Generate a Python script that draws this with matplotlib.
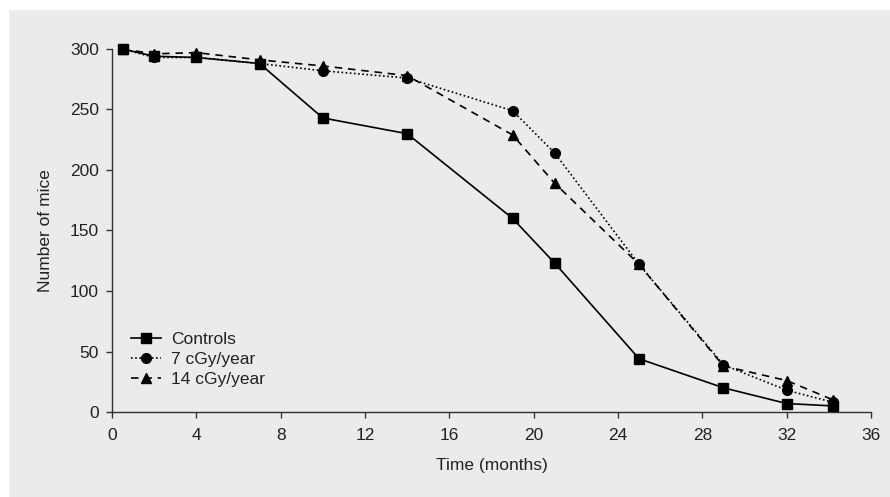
import matplotlib
matplotlib.use('Agg')
import matplotlib.pyplot as plt
from matplotlib.patches import Rectangle

# Data
months = [0.5, 2, 4, 7, 10, 14, 19, 21, 25, 29, 32, 34.2]
controls = [300, 294, 293, 288, 243, 230, 160, 123, 44, 20, 7, 5]
cgy7 = [300, 293, 293, 288, 282, 276, 249, 214, 122, 39, 18, 8]
cgy14 = [300, 296, 297, 291, 286, 278, 229, 189, 122, 38, 26, 10]

x_ticks = [0, 4, 8, 12, 16, 20, 24, 28, 32, 36]
y_ticks = [0, 50, 100, 150, 200, 250, 300]

plt.rcParams['font.family'] = ['Liberation Sans', 'DejaVu Sans']
fs = 12.5

fig = plt.figure(figsize=(8.9, 4.97), dpi=100)
fig.patch.set_facecolor('white')
bg = Rectangle((9 / 890, 0), 881 / 890, 487 / 497, transform=fig.transFigure,
               facecolor='#ebebeb', edgecolor='none', zorder=-10)
fig.patches.append(bg)

ax = fig.add_axes([112 / 890, 85 / 497, 759 / 890, 363 / 497])
ax.set_facecolor('none')
ax.set_zorder(5)

ax.plot(months, controls, color='black', lw=1.2, marker='s', ms=6.5,
        label='Controls', clip_on=False)
ax.plot(months, cgy7, color='black', lw=1.2, ls=(0, (1, 1.5)), marker='o',
        ms=7, label='7 cGy/year', clip_on=False)
ax.plot(months, cgy14, color='black', lw=1.2, ls=(0, (4.5, 3.5)), marker='^',
        ms=7, label='14 cGy/year', clip_on=False)

ax.set_xlim(0, 36)
ax.set_ylim(0, 300)
ax.set_xticks(x_ticks)
ax.set_yticks(y_ticks)
for side in ['top', 'right']:
    ax.spines[side].set_visible(False)
for side in ['left', 'bottom']:
    ax.spines[side].set_linewidth(1.0)
    ax.spines[side].set_color('#333333')
ax.tick_params(direction='out', length=4.5, width=1.0, color='#333333',
               pad=5, labelsize=fs, labelcolor='#222222')
ax.tick_params(axis='x', pad=7)

ax.set_xlabel('Time (months)', fontsize=fs, color='#222222', labelpad=11)
ax.set_ylabel('Number of mice', fontsize=fs, color='#222222', labelpad=12)

leg = ax.legend(loc='lower left', bbox_to_anchor=(0.005, 0.025), frameon=False,
                handlelength=1.7, handletextpad=0.6, labelspacing=0.3,
                fontsize=fs)
for t in leg.get_texts():
    t.set_color('#222222')

fig.savefig('out.png', dpi=100)
